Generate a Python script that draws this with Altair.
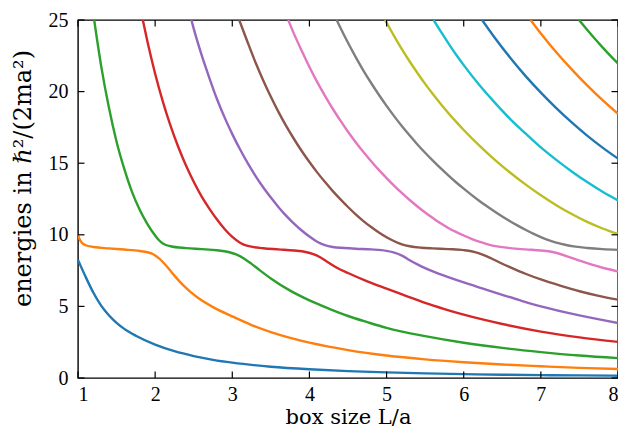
import altair as alt
import pandas as pd

# ---- data (box size L/a, energy) ----
L_1 = [1.0, 1.1, 1.2, 1.3, 1.4, 1.5, 1.6, 1.75, 2.0, 2.25, 2.5, 2.75, 3.0, 3.5, 4.0, 4.5, 5.0, 5.5, 6.0, 6.5, 7.0, 7.5, 8.0]
E_1 = [8.25, 7.05, 5.95, 5.05, 4.38, 3.85, 3.43, 2.95, 2.33, 1.87, 1.53, 1.27, 1.07, 0.79, 0.61, 0.48, 0.39, 0.32, 0.27, 0.23, 0.2, 0.18, 0.16]

L_2 = [1.0, 1.02, 1.05, 1.1, 1.2, 1.4, 1.6, 1.8, 1.9, 1.97, 2.05, 2.15, 2.25, 2.35, 2.45, 2.55, 2.75, 3.0, 3.25, 3.5, 3.75, 4.0, 4.5, 5.0, 5.5, 6.0, 6.5, 7.0, 7.5, 8.0]
E_2 = [9.95, 9.7, 9.45, 9.27, 9.15, 9.05, 8.97, 8.87, 8.78, 8.66, 8.35, 7.8, 7.15, 6.55, 6.05, 5.62, 4.95, 4.3, 3.7, 3.2, 2.8, 2.47, 1.95, 1.57, 1.3, 1.1, 0.94, 0.82, 0.71, 0.63]

L_3 = [1.21, 1.3, 1.4, 1.5, 1.6, 1.7, 1.8, 1.9, 2.0, 2.05, 2.1, 2.2, 2.4, 2.6, 2.8, 2.95, 3.05, 3.15, 3.25, 3.35, 3.5, 3.75, 4.0, 4.25, 4.5, 4.75, 5.0, 5.5, 6.0, 6.5, 7.0, 7.5, 8.0]
E_3 = [25.0, 21.8, 18.9, 16.5, 14.6, 13.0, 11.75, 10.75, 9.95, 9.62, 9.4, 9.2, 9.07, 9.0, 8.92, 8.8, 8.63, 8.35, 7.97, 7.55, 6.95, 6.1, 5.42, 4.85, 4.33, 3.9, 3.5, 2.92, 2.46, 2.1, 1.81, 1.57, 1.39]

L_4 = [1.84, 1.9, 2.0, 2.1, 2.2, 2.3, 2.4, 2.5, 2.6, 2.7, 2.8, 2.9, 3.0, 3.1, 3.2, 3.4, 3.6, 3.8, 3.95, 4.05, 4.15, 4.25, 4.35, 4.5, 4.75, 5.0, 5.25, 5.5, 5.75, 6.0, 6.5, 7.0, 7.5, 8.0]
E_4 = [25.0, 23.5, 21.25, 19.3, 17.6, 16.13, 14.84, 13.7, 12.7, 11.85, 11.08, 10.4, 9.85, 9.45, 9.22, 9.06, 8.98, 8.9, 8.8, 8.65, 8.4, 8.05, 7.72, 7.33, 6.75, 6.24, 5.74, 5.24, 4.81, 4.42, 3.77, 3.24, 2.84, 2.52]

L_5 = [2.47, 2.5, 2.6, 2.7, 2.8, 2.9, 3.0, 3.1, 3.2, 3.3, 3.4, 3.5, 3.6, 3.7, 3.8, 3.9, 4.0, 4.1, 4.2, 4.3, 4.45, 4.6, 4.8, 5.0, 5.1, 5.2, 5.3, 5.4, 5.5, 5.6, 5.8, 6.0, 6.25, 6.5, 6.75, 7.0, 7.5, 8.0]
E_5 = [25.0, 24.4, 22.6, 21.0, 19.5, 18.2, 17.03, 15.97, 15.0, 14.12, 13.32, 12.6, 11.93, 11.32, 10.78, 10.3, 9.88, 9.52, 9.28, 9.15, 9.08, 9.03, 8.98, 8.88, 8.76, 8.55, 8.22, 7.93, 7.67, 7.44, 7.04, 6.67, 6.24, 5.81, 5.39, 5.0, 4.37, 3.84]

L_6 = [3.09, 3.2, 3.3, 3.4, 3.5, 3.6, 3.7, 3.8, 3.9, 4.0, 4.1, 4.2, 4.3, 4.4, 4.5, 4.6, 4.7, 4.8, 4.9, 5.0, 5.1, 5.2, 5.3, 5.45, 5.6, 5.8, 6.0, 6.1, 6.2, 6.3, 6.4, 6.5, 6.6, 6.8, 7.0, 7.25, 7.5, 7.75, 8.0]
E_6 = [25.0, 23.43, 22.05, 20.8, 19.64, 18.57, 17.59, 16.69, 15.85, 15.08, 14.36, 13.7, 13.07, 12.49, 11.94, 11.43, 10.96, 10.54, 10.16, 9.83, 9.55, 9.33, 9.2, 9.1, 9.05, 9.0, 8.93, 8.85, 8.7, 8.5, 8.24, 7.98, 7.74, 7.28, 6.88, 6.45, 6.06, 5.74, 5.47]

L_7 = [3.725, 3.8, 3.9, 4.0, 4.1, 4.2, 4.3, 4.4, 4.5, 4.6, 4.7, 4.8, 4.9, 5.0, 5.1, 5.2, 5.3, 5.4, 5.5, 5.6, 5.7, 5.8, 5.9, 6.0, 6.1, 6.2, 6.3, 6.45, 6.6, 6.8, 7.0, 7.15, 7.25, 7.35, 7.5, 7.65, 7.8, 8.0]
E_7 = [25.0, 24.03, 22.85, 21.72, 20.68, 19.72, 18.82, 17.99, 17.2, 16.47, 15.78, 15.14, 14.53, 13.96, 13.42, 12.91, 12.43, 11.98, 11.56, 11.17, 10.8, 10.48, 10.2, 9.95, 9.72, 9.52, 9.35, 9.17, 9.07, 8.98, 8.9, 8.8, 8.66, 8.48, 8.2, 7.93, 7.7, 7.44]

L_8 = [4.353, 4.4, 4.5, 4.6, 4.7, 4.8, 4.9, 5.0, 5.1, 5.2, 5.3, 5.4, 5.5, 5.6, 5.7, 5.8, 5.9, 6.0, 6.1, 6.2, 6.3, 6.4, 6.5, 6.6, 6.7, 6.8, 6.9, 7.0, 7.1, 7.2, 7.3, 7.45, 7.6, 7.8, 8.0]
E_8 = [25.0, 24.48, 23.41, 22.41, 21.47, 20.6, 19.78, 19.0, 18.27, 17.58, 16.93, 16.31, 15.73, 15.18, 14.65, 14.15, 13.67, 13.22, 12.79, 12.38, 12.0, 11.63, 11.28, 10.95, 10.64, 10.35, 10.08, 9.84, 9.63, 9.46, 9.32, 9.17, 9.08, 9.0, 8.95]

L_9 = [4.98, 5.1, 5.2, 5.3, 5.4, 5.5, 5.6, 5.7, 5.8, 5.9, 6.0, 6.2, 6.4, 6.6, 6.8, 7.0, 7.2, 7.4, 7.6, 7.8, 8.0]
E_9 = [25.0, 23.86, 22.95, 22.1, 21.3, 20.54, 19.83, 19.15, 18.51, 17.9, 17.32, 16.24, 15.25, 14.35, 13.52, 12.76, 12.07, 11.45, 10.9, 10.44, 10.05]

L_10 = [5.61, 5.7, 5.8, 5.9, 6.0, 6.2, 6.4, 6.6, 6.8, 7.0, 7.2, 7.4, 7.6, 7.8, 8.0]
E_10 = [25.0, 24.22, 23.39, 22.59, 21.85, 20.48, 19.25, 18.1, 17.08, 16.1, 15.23, 14.42, 13.68, 13.0, 12.4]

L_11 = [6.238, 6.4, 6.6, 6.8, 7.0, 7.2, 7.4, 7.6, 7.8, 8.0]
E_11 = [25.0, 23.78, 22.38, 21.1, 19.93, 18.85, 17.85, 16.93, 16.09, 15.32]

L_12 = [6.867, 7.0, 7.2, 7.4, 7.6, 7.8, 8.0]
E_12 = [25.0, 24.06, 22.75, 21.55, 20.43, 19.4, 18.45]

L_13 = [7.495, 7.6, 7.7, 7.8, 7.9, 8.0]
E_13 = [25.0, 24.32, 23.69, 23.09, 22.51, 21.96]

COLORS = ["#1f77b4", "#ff7f0e", "#2ca02c", "#d62728", "#9467bd", "#8c564b",
          "#e377c2", "#7f7f7f", "#bcbd22", "#17becf", "#1f77b4", "#ff7f0e", "#2ca02c"]

X_TICKS = [1, 2, 3, 4, 5, 6, 7, 8]
Y_TICKS = [0, 5, 10, 15, 20, 25]

curves = [(L_1, E_1), (L_2, E_2), (L_3, E_3), (L_4, E_4), (L_5, E_5), (L_6, E_6),
          (L_7, E_7), (L_8, E_8), (L_9, E_9), (L_10, E_10), (L_11, E_11), (L_12, E_12), (L_13, E_13)]

rows = []
for i, (Ls, Es) in enumerate(curves):
    for l, e in zip(Ls, Es):
        rows.append({"L": l, "E": e, "level": f"n{i:02d}"})
df = pd.DataFrame(rows)
levels = [f"n{i:02d}" for i in range(len(curves))]

W, H = 540, 358
TICK = 6.5
LABEL_FONT = "Liberation Serif"
TITLE_FONT = "DejaVu Serif"

xs = alt.Scale(domain=[1, 8], nice=False, zero=False)
ys = alt.Scale(domain=[0, 25], nice=False, zero=False)

lines = alt.Chart(df).mark_line(strokeWidth=2.4, interpolate="monotone", clip=True).encode(
    x=alt.X("L:Q", scale=xs, axis=alt.Axis(
        title="box size L/a", values=X_TICKS, format="d", ticks=False, domain=False, grid=False,
        labelFont=LABEL_FONT, labelFontSize=20, labelPadding=6,
        titleFont=TITLE_FONT, titleFontSize=21, titleFontWeight="normal", titlePadding=2)),
    y=alt.Y("E:Q", scale=ys, axis=alt.Axis(
        title="energies in ℏ²/(2ma²)", values=Y_TICKS, format="d", ticks=False, domain=False, grid=False,
        labelFont=LABEL_FONT, labelFontSize=20, labelPadding=10,
        titleFont=TITLE_FONT, titleFontSize=24, titleFontWeight="normal", titlePadding=13,
        titleY=158)),
    color=alt.Color("level:N", scale=alt.Scale(domain=levels, range=COLORS), legend=None),
)

# inward tick marks on all four sides, placed through the shared scales
xt_df = pd.DataFrame({"L": X_TICKS})
yt_df = pd.DataFrame({"E": Y_TICKS})
rule = dict(color="black", strokeWidth=1.2)

x_ticks_bottom = alt.Chart(xt_df).mark_rule(**rule).encode(
    x=alt.X("L:Q", scale=xs), y=alt.value(H), y2=alt.value(H - TICK))
x_ticks_top = alt.Chart(xt_df).mark_rule(**rule).encode(
    x=alt.X("L:Q", scale=xs), y=alt.value(0), y2=alt.value(TICK))
y_ticks_left = alt.Chart(yt_df).mark_rule(**rule).encode(
    y=alt.Y("E:Q", scale=ys), x=alt.value(0), x2=alt.value(TICK))
y_ticks_right = alt.Chart(yt_df).mark_rule(**rule).encode(
    y=alt.Y("E:Q", scale=ys), x=alt.value(W), x2=alt.value(W - TICK))

chart = alt.layer(
    lines, x_ticks_bottom, x_ticks_top, y_ticks_left, y_ticks_right
).properties(
    width=W, height=H,
    autosize=alt.AutoSizeParams(type="none"),
    padding={"left": 70, "top": 12, "right": 0, "bottom": 50},
).configure_view(
    stroke="black", strokeWidth=1.4
).configure_axis(
    labelColor="black", titleColor="black"
)

chart.save("out.html", embed_options={"renderer": "svg", "actions": False})
